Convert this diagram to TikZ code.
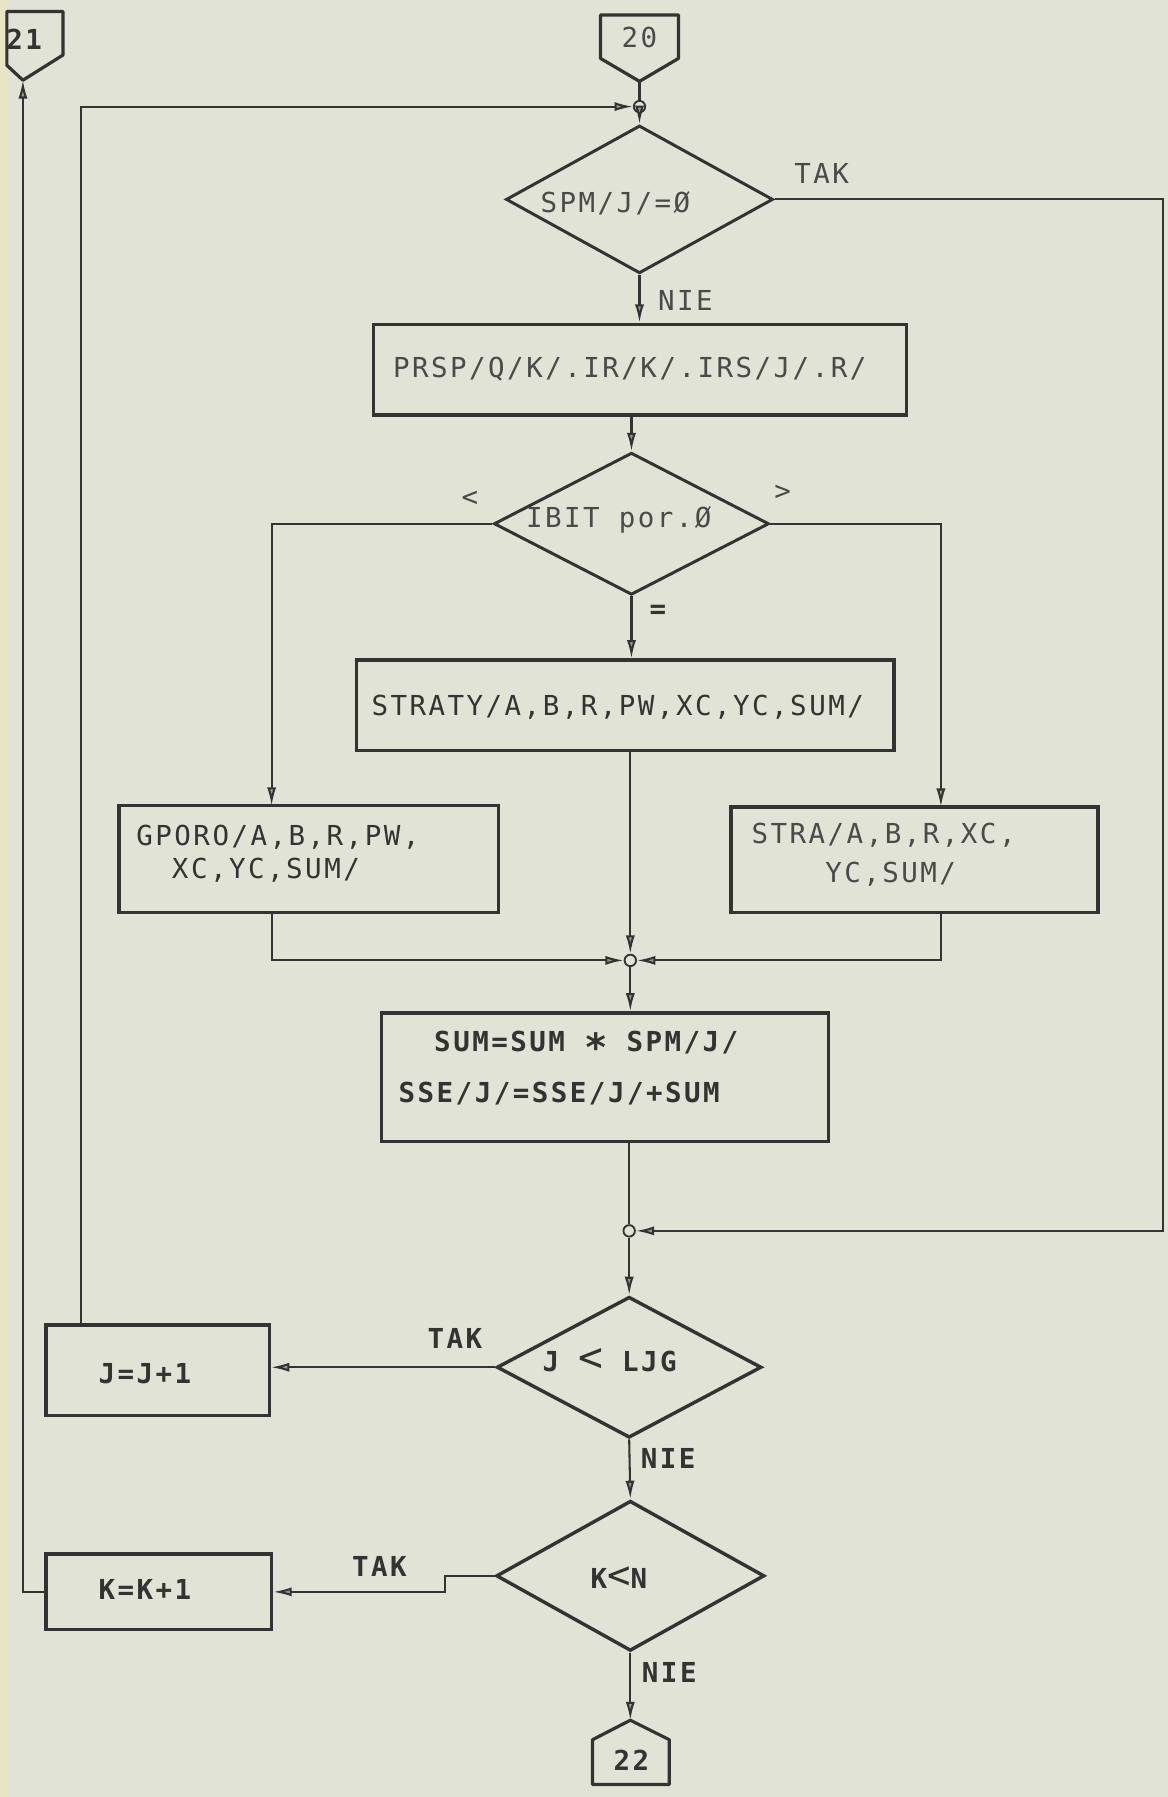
\documentclass[tikz,border=0pt]{standalone}
\usepackage{fontspec}
\setmainfont{DejaVu Sans Mono}[LetterSpace=9]
\usetikzlibrary{arrows.meta,shapes.geometric}
\definecolor{paper}{HTML}{E0E3D6}
\definecolor{band}{HTML}{E8E4C6}
\definecolor{ink}{HTML}{333333}
\definecolor{lightink}{HTML}{4A4A4A}
\begin{document}
\begin{tikzpicture}[x=1pt,y=-1pt,
  tx/.style={font=\fontsize{24}{28}\selectfont, text=lightink, inner sep=0pt},
  btx/.style={font=\fontsize{24}{28}\selectfont\bfseries, text=ink, inner sep=0pt},
  proc/.style={draw=ink, line width=3pt, inner sep=0pt},
  dec/.style={draw=ink, line width=2.6pt, diamond, inner sep=0pt},
  ln/.style={draw=ink, line width=1.8pt},
  ar/.style={ln, -{Latex[length=16pt,width=8pt,fill=ink!50]}},
  jn/.style={circle, draw=ink, line width=1.6pt, fill=paper, minimum size=10pt, inner sep=0pt},
  offpage/.style={draw=ink, line width=2.8pt, line join=round},
]
\fill[paper] (0,0) rectangle (1019,1568);
\fill[band] (0,0) rectangle (6,1568);
\useasboundingbox (0,0) rectangle (1019,1568);

% off-page connectors
\draw[offpage] (6,10) -- (55,10) -- (55,48) -- (20,70) -- (6,57) -- cycle;
\node[btx] (c21) at (21,34) {21};
\coordinate (c21p) at (20,70);

\draw[offpage] (524,13) -- (592,13) -- (592,51) -- (558,71) -- (524,51) -- cycle;
\node[tx] (c20) at (558,33) {20};
\coordinate (c20p) at (558,71);

\draw[offpage] (517,1557) -- (517,1518) -- (550,1501) -- (584,1518) -- (584,1557) -- cycle;
\node[btx] (c22) at (551,1536) {22};
\coordinate (c22p) at (550,1501);

% junctions
\node[jn] (j0) at (558,93) {};
\node[jn] (j1) at (550,838) {};
\node[jn] (j2) at (549,1074) {};

% decisions
\node[dec, minimum width=233pt, minimum height=129pt,
  label={[tx,xshift=-21pt,yshift=-3pt]center:SPM/J/=Ø}] (d1) at (558,174) {};
\node[dec, minimum width=240pt, minimum height=124pt,
  label={[tx,xshift=-11pt,yshift=3pt]center:IBIT por.Ø}] (d2) at (551,457) {};
\node[dec, line width=3pt, minimum width=231pt, minimum height=123pt,
  label={[btx,xshift=-17pt,yshift=6pt]center:J {\fontsize{36}{36}\selectfont\mdseries<} LJG}] (d3) at (549,1193) {};
\node[dec, line width=3pt, minimum width=234pt, minimum height=131pt,
  label={[btx,xshift=-10pt,yshift=-2pt]center:K{\fontsize{34}{34}\selectfont\mdseries<}N}] (d4) at (550,1375) {};

% processes
\node[proc, minimum width=465pt, minimum height=79pt,
  label={[tx,xshift=-9pt]center:PRSP/Q/K/.IR/K/.IRS/J/.R/}] (prsp) at (558.5,322.5) {};
\node[proc, minimum width=469pt, minimum height=79pt,
  label={[tx,text=ink,xshift=-6.5pt,yshift=-1.5pt]center:STRATY/A,B,R,PW,XC,YC,SUM/}] (straty) at (545.5,615.5) {};
\node[proc, minimum width=331pt, minimum height=93pt,
  label={[tx,text=ink,font=\fontsize{24}{29}\selectfont,align=left,xshift=-27pt,yshift=4.5pt]center:GPORO/A,B,R,PW,\\\hphantom{GP}XC,YC,SUM/}] (gporo) at (269.5,749.5) {};
\node[proc, minimum width=320pt, minimum height=92pt,
  label={[tx,font=\fontsize{24}{34}\selectfont,align=left,xshift=-27pt,yshift=4pt]center:STRA/A,B,R,XC,\\\hphantom{STRA}YC,SUM/}] (stra) at (798,750) {};
\node[proc, minimum width=390pt, minimum height=112pt,
  label={[btx,font=\fontsize{24}{44}\selectfont\bfseries,align=left,xshift=-32pt,yshift=8pt]center:\hphantom{SS}SUM=SUM \raisebox{-8pt}{\fontsize{34}{34}\selectfont*} SPM/J/\\SSE/J/=SSE/J/+SUM}] (sum) at (528,940) {};
\node[proc, minimum width=195pt, minimum height=79pt,
  label={[btx,xshift=-11pt,yshift=-3pt]center:J=J+1}] (jj) at (137.5,1195.5) {};
\node[proc, minimum width=197pt, minimum height=66pt,
  label={[btx,xshift=-12pt,yshift=2pt]center:K=K+1}] (kk) at (138.5,1389) {};

% branch labels
\node[tx] (tak1) at (717,151) {TAK};
\node[tx] (nie1) at (598,262) {NIE};
\node[tx] (lsign) at (410,435) {<};
\node[tx] (gsign) at (683,430) {>};
\node[btx] (esign) at (574,534) {=};
\node[btx] (tak2) at (397,1168) {TAK};
\node[btx] (nie2) at (583,1273) {NIE};
\node[btx] (tak3) at (331,1367) {TAK};
\node[btx] (nie3) at (584,1459) {NIE};

% coordinates for connector corners
\coordinate (jjt) at (71,1156);
\coordinate (rr) at (1015,1074);
\coordinate (gt) at (237,703);
\coordinate (st) at (821,704);
\coordinate (gb) at (237,796);
\coordinate (sb) at (821,796);
\coordinate (kb) at (388,1375);

% connectors
\draw[ln] (c20p) -- (j0);
\draw[ar] (j0) -- (d1.north);
\draw[ar] (jjt) |- (j0);
\draw[ar] (d1.east) -| (rr) -- (j2);
\draw[ar] (d1.south) -- (d1.south |- prsp.north);
\draw[ar] (d2.north |- prsp.south) -- (d2.north);
\draw[ar] (d2.west) -| (gt);
\draw[ar] (d2.east) -| (st);
\draw[ar] (d2.south) -- (d2.south |- straty.north);
\draw[ar] (j1 |- straty.south) -- (j1);
\draw[ar] (gb) |- (j1);
\draw[ar] (sb) |- (j1);
\draw[ar] (j1) -- (j1 |- sum.north);
\draw[ln] (j2 |- sum.south) -- (j2);
\draw[ar] (j2) -- (d3.north);
\draw[ar] (d3.west) -- (d3.west -| jj.east);
\draw[ar] (d3.south) -- (d4.north);
\draw[ar] (d4.west) -- (kb) |- (kk.east);
\draw[ar] (kk.west) -| (c21p);
\draw[ar] (d4.south) -- (c22p);
\end{tikzpicture}
\end{document}
